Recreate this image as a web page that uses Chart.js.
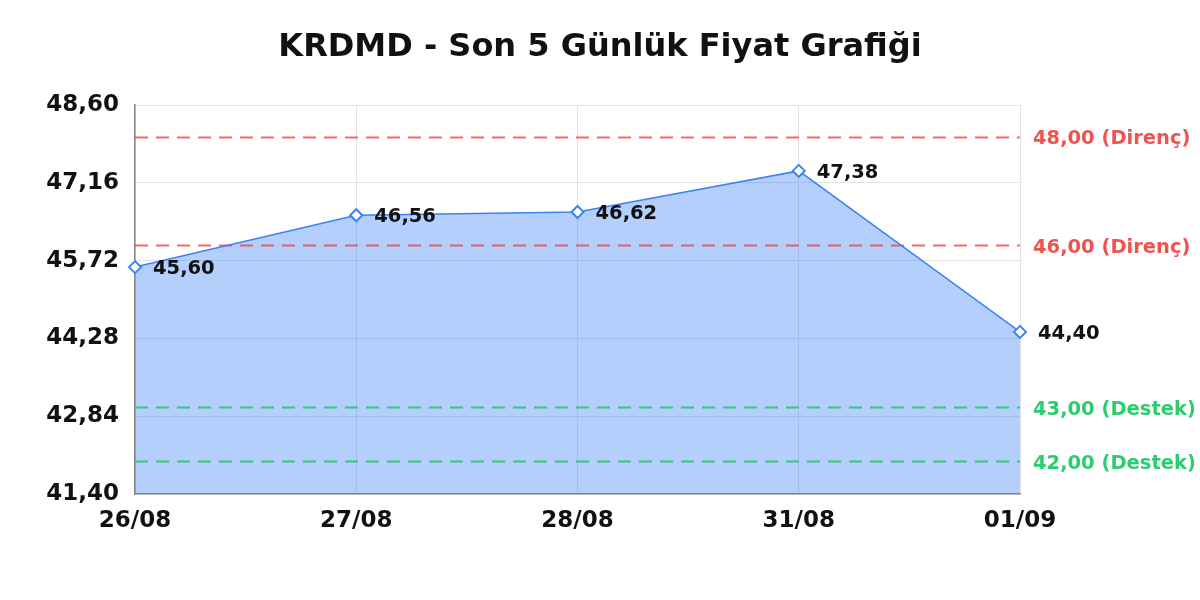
<!DOCTYPE html>
<html>
<head>
<meta charset="utf-8">
<script src="https://cdn.jsdelivr.net/npm/chart.js@4"></script>
<style>
  html, body { margin: 0; padding: 0; background: #fff; }
  #wrap { width: 1200px; height: 600px; }
</style>
</head>
<body>
<div id="wrap"><canvas id="myChart" width="1200" height="600"></canvas></div>
<script>
// chart data
const days = ["26/08", "27/08", "28/08", "31/08", "01/09"];
const prices = [45.60, 46.56, 46.62, 47.38, 44.40];
const yTicks = [41.40, 42.84, 44.28, 45.72, 47.16, 48.60];
const resistLevels = [48.00, 46.00];
const supportLevels = [43.00, 42.00];
const chartTitle = "KRDMD - Son 5 Günlük Fiyat Grafiği";

const blue = "#3b82f6";
const red = "#ef5350";
const green = "#2ecc71";
const fontName = "'DejaVu Sans', sans-serif";

function fmt(v) {
  return v.toFixed(2).replace(".", ",");
}

// one flat dashed dataset per level, from first to last day
function levelSet(level, color, lineColor) {
  return {
    data: [{ x: days[0], y: level }, { x: days[days.length - 1], y: level }],
    borderColor: lineColor,
    borderWidth: 2,
    borderDash: [13, 8],
    pointRadius: 0,
    fill: false,
    order: 1,
    levelColor: color,
    levelText: fmt(level) + (color == red ? " (Direnç)" : " (Destek)"),
  };
}

const levelSets = resistLevels.map((l) => levelSet(l, red, "rgba(239,68,68,0.8)"))
  .concat(supportLevels.map((l) => levelSet(l, green, "rgba(34,197,94,0.85)")));

// title centred on the whole canvas, labels at points and level lines
const labelPlugin = {
  id: "labelPlugin",
  afterDatasetsDraw(chart) {
    const ctx = chart.ctx;
    const x = chart.scales.x;
    const y = chart.scales.y;
    ctx.save();
    ctx.textBaseline = "middle";
    ctx.textAlign = "center";
    ctx.fillStyle = "#111";
    ctx.font = "bold 32px " + fontName;
    ctx.fillText(chartTitle, chart.width / 2, 48);

    ctx.textAlign = "left";
    ctx.font = "bold 19.5px " + fontName;
    for (let i = 0; i < prices.length; i++) {
      ctx.fillText(fmt(prices[i]), x.getPixelForValue(i) + 18, y.getPixelForValue(prices[i]) + 2);
    }
    levelSets.forEach((ds) => {
      ctx.fillStyle = ds.levelColor;
      ctx.fillText(ds.levelText, chart.chartArea.right + 13, y.getPixelForValue(ds.data[0].y) + 2);
    });
    ctx.restore();
  },
};

new Chart("myChart", {
  type: "line",
  data: {
    labels: days,
    datasets: [
      {
        data: prices,
        borderColor: blue,
        borderWidth: 1.5,
        backgroundColor: "rgba(59,130,246,0.38)",
        fill: "start",
        tension: 0,
        pointStyle: "rectRot",
        pointRadius: 6,
        pointBackgroundColor: "#fff",
        pointBorderColor: blue,
        pointBorderWidth: 2,
        order: 0,
      },
    ].concat(levelSets),
  },
  options: {
    responsive: false,
    animation: false,
    layout: { padding: { left: 0, right: 180, top: 105, bottom: 0 } },
    plugins: {
      legend: { display: false },
      tooltip: { enabled: false },
      title: { display: false },
      filler: { drawTime: "beforeDatasetsDraw" },
    },
    scales: {
      x: {
        offset: false,
        grid: { color: "#e3e3e3", drawTicks: false },
        border: { display: true, color: "#888", width: 1.5 },
        ticks: {
          color: "#111",
          padding: 13,
          maxRotation: 0,
          font: { family: fontName, size: 23, weight: "bold" },
        },
        afterFit(scale) { scale.height = 106; },
      },
      y: {
        min: 41.4,
        max: 48.6,
        grid: { color: "#e3e3e3", drawTicks: false },
        border: { display: true, color: "#888", width: 1.5 },
        afterBuildTicks(scale) {
          scale.ticks = yTicks.map((v) => ({ value: v }));
        },
        ticks: {
          color: "#111",
          padding: 16,
          font: { family: fontName, size: 23, weight: "bold" },
          callback: (v) => fmt(v),
        },
        afterFit(scale) { scale.width = 135; },
      },
    },
  },
  plugins: [labelPlugin],
});
</script>
</body>
</html>
